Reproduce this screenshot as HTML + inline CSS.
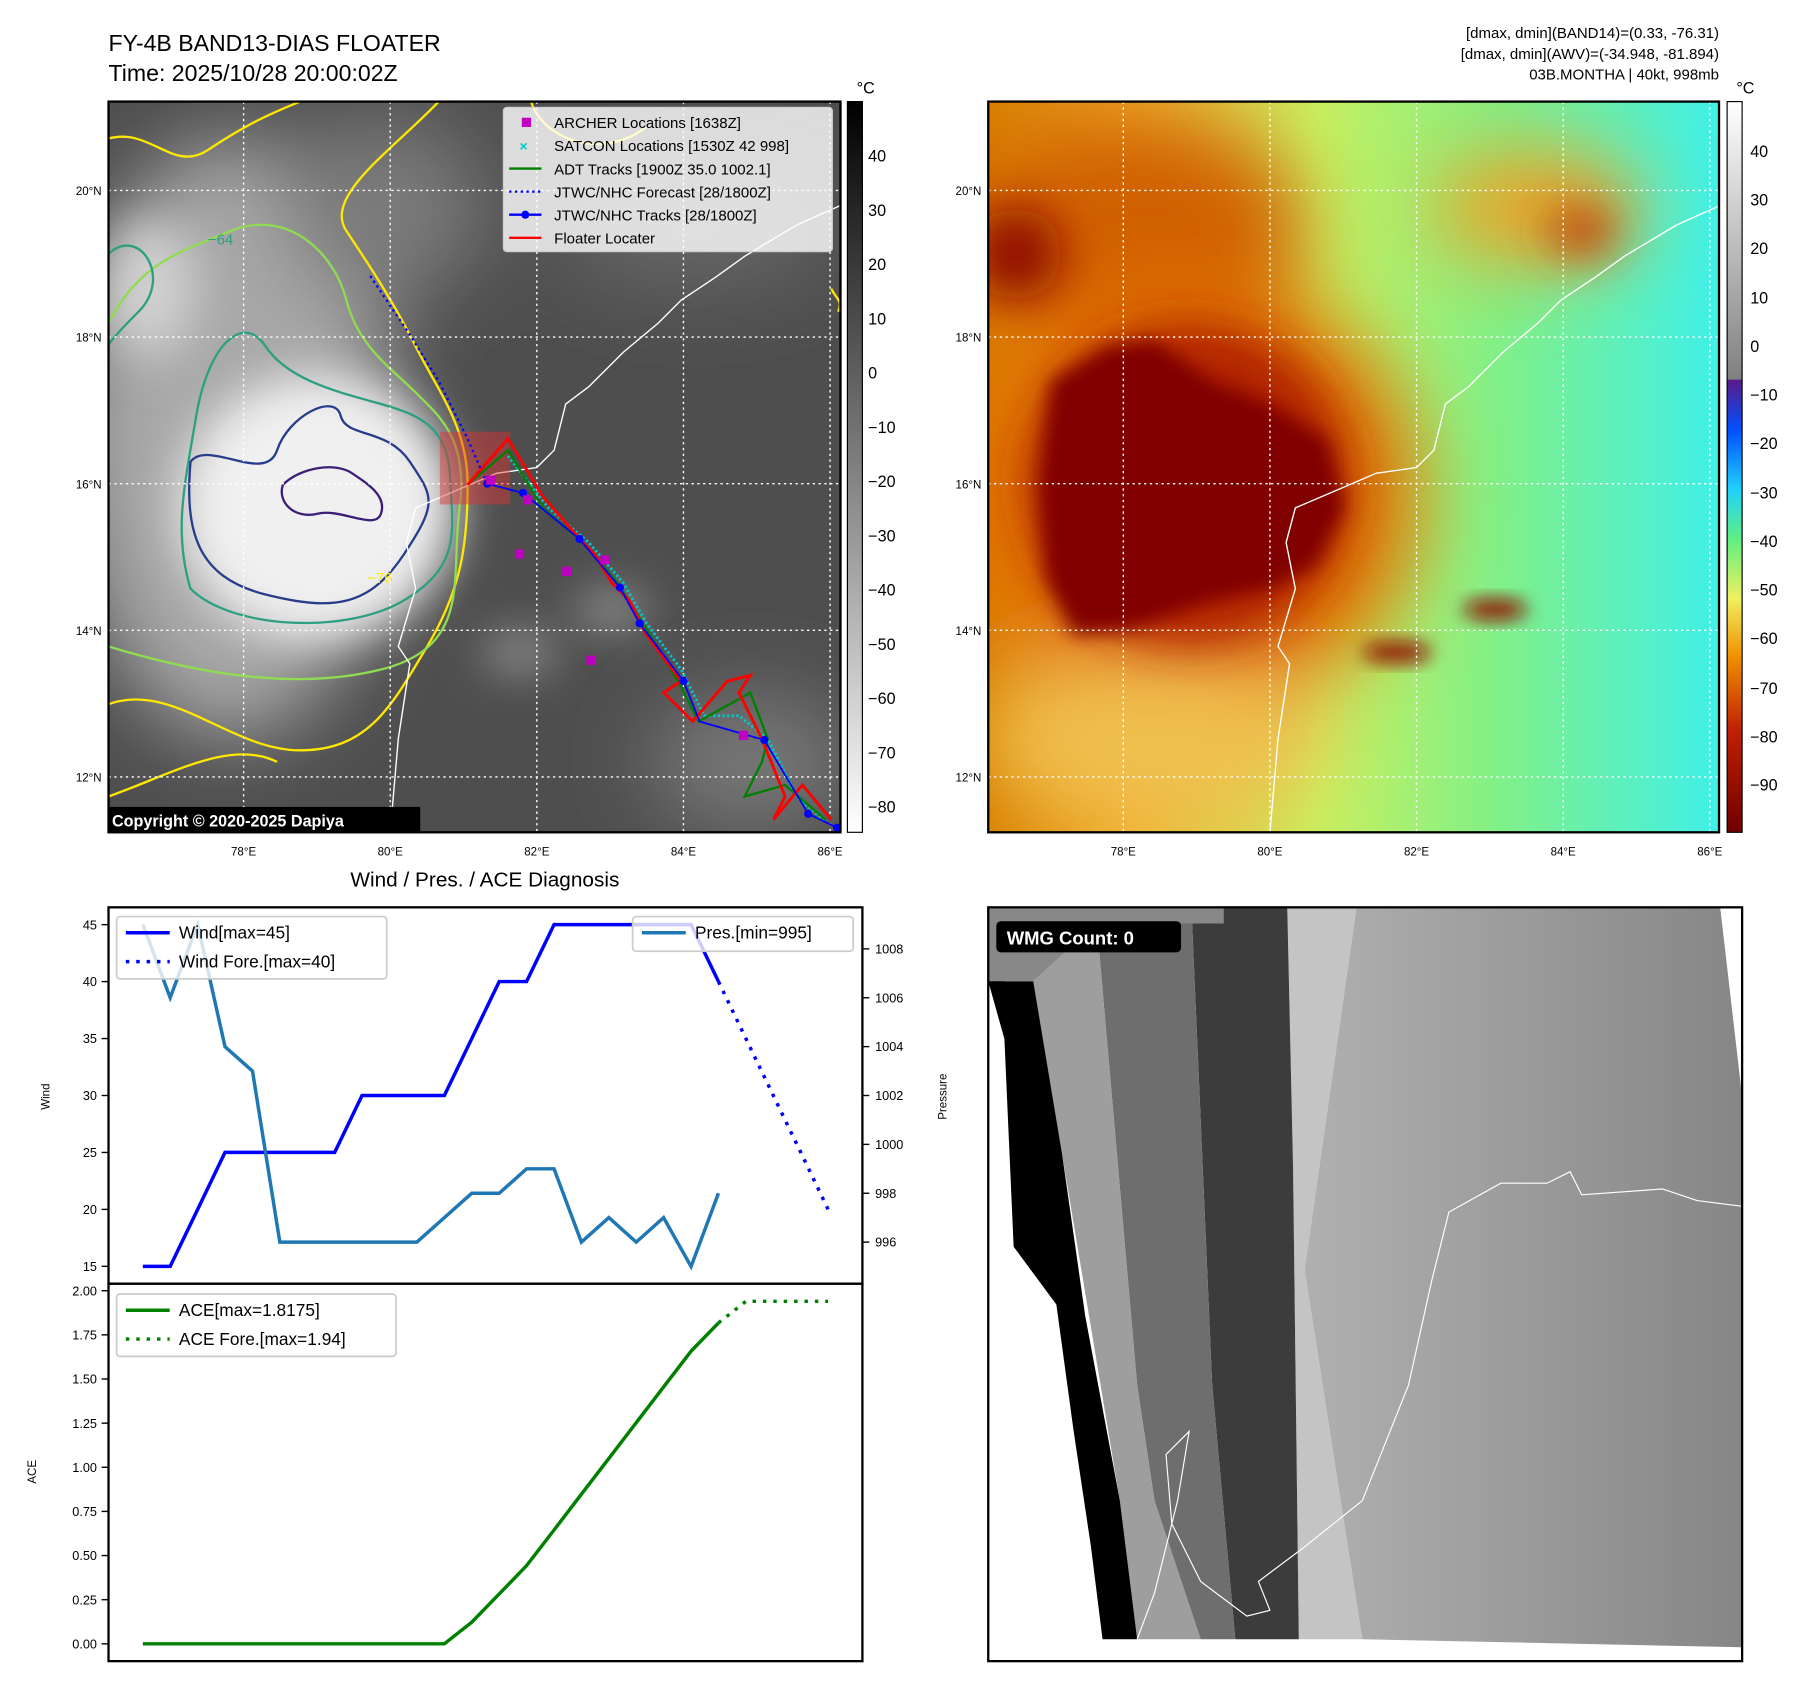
<!DOCTYPE html>
<html><head><meta charset="utf-8"><style>
html,body{margin:0;padding:0;background:#fff;}
svg{display:block;font-family:"Liberation Sans","DejaVu Sans",sans-serif;}
</style></head><body>
<svg id="root" width="1801" height="1690" viewBox="0 0 1560 1464" preserveAspectRatio="none" xmlns="http://www.w3.org/2000/svg">
<defs>
<filter id="b8" x="-50%" y="-50%" width="200%" height="200%"><feGaussianBlur stdDeviation="8"/></filter>
<filter id="b20" x="-50%" y="-50%" width="200%" height="200%"><feGaussianBlur stdDeviation="20"/></filter>
<filter id="b35" x="-50%" y="-50%" width="200%" height="200%"><feGaussianBlur stdDeviation="35"/></filter>
<clipPath id="cl"><rect x="94" y="88" width="634" height="633"/></clipPath>
<clipPath id="cr"><rect x="856" y="88" width="633" height="633"/></clipPath>
<clipPath id="cb"><rect x="856" y="786" width="653" height="653"/></clipPath>
<linearGradient id="gcl" x1="0" y1="0" x2="0" y2="1"><stop offset="0" stop-color="#000"/><stop offset="1" stop-color="#fff"/></linearGradient>
<linearGradient id="gcr" x1="0" y1="0" x2="0" y2="1">
<stop offset="0" stop-color="#fff"/><stop offset="0.38" stop-color="#808080"/><stop offset="0.381" stop-color="#5a1a8a"/>
<stop offset="0.45" stop-color="#0050ff"/><stop offset="0.53" stop-color="#20d0ff"/><stop offset="0.6" stop-color="#60f080"/>
<stop offset="0.68" stop-color="#f0f060"/><stop offset="0.76" stop-color="#f09000"/><stop offset="0.86" stop-color="#c02000"/><stop offset="1" stop-color="#700000"/></linearGradient>
<linearGradient id="grbg" x1="0" y1="0" x2="1" y2="0">
<stop offset="0" stop-color="#d88000"/><stop offset="0.2" stop-color="#f0b030"/><stop offset="0.45" stop-color="#c8f060"/><stop offset="0.7" stop-color="#80f088"/><stop offset="1" stop-color="#40f0e8"/></linearGradient>
<linearGradient id="gbr" x1="0" y1="0" x2="1" y2="0"><stop offset="0" stop-color="#b0b0b0"/><stop offset="1" stop-color="#868686"/></linearGradient>
</defs>

<!-- Titles -->
<text x="94" y="44" font-size="20">FY-4B BAND13-DIAS FLOATER</text>
<text x="94" y="70" font-size="20">Time: 2025/10/28 20:00:02Z</text>
<g font-size="13" text-anchor="end">
<text x="1489" y="33">[dmax, dmin](BAND14)=(0.33, -76.31)</text>
<text x="1489" y="51">[dmax, dmin](AWV)=(-34.948, -81.894)</text>
<text x="1489" y="69">03B.MONTHA | 40kt, 998mb</text>
</g>

<!-- LEFT MAP -->
<g clip-path="url(#cl)">
<rect x="94" y="88" width="634" height="633" fill="#4e4e4e"/>
<g filter="url(#b35)">
<ellipse cx="200" cy="380" rx="140" ry="260" fill="#a8a8a8"/>
<ellipse cx="330" cy="180" rx="90" ry="80" fill="#7a7a7a"/>
<ellipse cx="650" cy="660" rx="90" ry="60" fill="#777"/>
<ellipse cx="600" cy="200" rx="120" ry="50" fill="#666"/>
</g>
<g filter="url(#b20)">
<ellipse cx="275" cy="440" rx="120" ry="115" fill="#f0f0f0"/>
<ellipse cx="130" cy="250" rx="40" ry="60" fill="#d0d0d0"/>
<ellipse cx="530" cy="528" rx="30" ry="10" fill="#ccc"/>
<ellipse cx="450" cy="565" rx="30" ry="10" fill="#ccc"/>
</g>
<g fill="none" stroke-width="2">
<path stroke="#ffe800" d="M94,610 C150,590 200,650 260,650 S340,610 370,560 S405,470 405,420 S380,340 360,300 S320,230 300,200 S340,130 380,88"/>
<path stroke="#ffe800" d="M94,690 C150,670 200,640 240,660 M94,120 C130,110 150,150 180,130 S230,100 260,88 M460,88 C470,120 520,140 560,110 M720,250 c5,10 10,10 6,20"/>
<path stroke="#90dc50" d="M94,560 C160,580 250,600 330,580 S390,500 398,440 S380,360 360,340 S310,300 300,260 S250,180 200,200 S120,230 94,280"/>
<path stroke="#2ca080" d="M165,510 C200,545 300,550 350,520 S392,460 390,415 S365,360 330,350 S250,330 230,300 S180,300 170,360 S150,460 165,510Z"/>
<path stroke="#2ca080" d="M94,220 C120,195 150,240 120,270 S94,300 94,300"/>
<path stroke="#283c8c" d="M165,400 C160,460 170,500 230,515 S320,525 350,480 S375,430 355,400 S300,380 295,360 S250,360 240,390 S180,380 165,400Z"/>
<path stroke="#3c1e78" d="M245,420 C260,405 290,400 305,410 S335,430 330,445 S295,440 275,445 S240,435 245,420Z"/>
</g>
<g fill="#ffe800" font-size="13"><text x="318" y="505">−76</text><text x="180" y="212" fill="#2ca080">−64</text></g>
<g stroke="#fff" stroke-width="1.2" stroke-dasharray="2 3">
<line x1="211" y1="88" x2="211" y2="721"/><line x1="338" y1="88" x2="338" y2="721"/><line x1="465" y1="88" x2="465" y2="721"/><line x1="592" y1="88" x2="592" y2="721"/><line x1="719" y1="88" x2="719" y2="721"/>
<line x1="94" y1="673" x2="728" y2="673"/><line x1="94" y1="546" x2="728" y2="546"/><line x1="94" y1="419" x2="728" y2="419"/><line x1="94" y1="292" x2="728" y2="292"/><line x1="94" y1="165" x2="728" y2="165"/>
</g>
<path fill="none" stroke="#fff" stroke-width="1.2" d="M338,721 L345,640 355,575 345,560 360,510 352,470 360,440 395,425 430,410 465,405 480,390 490,350 510,335 540,305 570,280 590,260 620,240 645,222 690,195 728,178"/>
<rect x="381" y="374" width="61" height="63" fill="#e03030" opacity="0.45"/>
<polyline fill="none" stroke="#0000ff" stroke-width="2" stroke-dasharray="2 3" points="422,419 405,380 380,330 355,290 320,238"/>
<polyline fill="none" stroke="#00c8c8" stroke-width="2.5" stroke-dasharray="2 2" points="440,395 475,440 510,470 540,505 560,540 590,580 610,620 640,620 665,640 690,690 715,712"/>
<polyline fill="none" stroke="#008000" stroke-width="2" points="405,420 440,390 470,440 505,470 535,505 560,545 590,595 605,625 650,600 665,640 660,660 645,690 680,680 715,710"/>
<polyline fill="none" stroke="#ff0000" stroke-width="2.5" points="405,420 440,380 470,430 505,470 515,480 530,505 545,520 560,550 590,590 575,600 600,625 630,590 650,585 640,600 660,640 680,690 670,710 695,680 720,710"/>
<g>
<polyline fill="none" stroke="#0000ff" stroke-width="1.5" points="422,419 453,427 502,467 537,509 554,540 592,590 606,625 662,641 700,705 725,717"/>
<g fill="#0000ff"><circle cx="422" cy="419" r="3.5"/><circle cx="453" cy="427" r="3.5"/><circle cx="502" cy="467" r="3.5"/><circle cx="537" cy="509" r="3.5"/><circle cx="554" cy="540" r="3.5"/><circle cx="592" cy="590" r="3.5"/><circle cx="662" cy="641" r="3.5"/><circle cx="700" cy="705" r="3.5"/><circle cx="725" cy="717" r="3.5"/></g>
</g>
<g fill="#c000c0">
<rect x="421" y="412" width="8" height="8"/><rect x="453" y="429" width="8" height="8"/><rect x="446" y="476" width="8" height="8"/><rect x="487" y="491" width="8" height="8"/><rect x="520" y="481" width="8" height="8"/><rect x="508" y="568" width="8" height="8"/><rect x="640" y="633" width="8" height="8"/>
</g>
<g>
<rect x="436" y="93" width="285" height="125" fill="#fff" fill-opacity="0.8" stroke="#ccc" rx="3"/>
<rect x="452" y="102" width="8" height="8" fill="#c000c0"/>
<text x="450" y="131" fill="#00c8c8" font-size="12" font-weight="bold">×</text>
<line x1="441" y1="146" x2="469" y2="146" stroke="#008000" stroke-width="2"/>
<line x1="441" y1="166" x2="469" y2="166" stroke="#0000ff" stroke-width="2" stroke-dasharray="2 3"/>
<line x1="441" y1="186" x2="469" y2="186" stroke="#0000ff" stroke-width="2"/><circle cx="455" cy="186" r="3.5" fill="#0000ff"/>
<line x1="441" y1="206" x2="469" y2="206" stroke="#ff0000" stroke-width="2"/>
<g font-size="13"><text x="480" y="111">ARCHER Locations [1638Z]</text><text x="480" y="131">SATCON Locations [1530Z 42 998]</text><text x="480" y="151">ADT Tracks [1900Z 35.0 1002.1]</text><text x="480" y="171">JTWC/NHC Forecast [28/1800Z]</text><text x="480" y="191">JTWC/NHC Tracks [28/1800Z]</text><text x="480" y="211">Floater Locater</text></g>
</g>
<rect x="94" y="699" width="270" height="22" fill="#000"/>
<text x="97" y="716" fill="#fff" font-size="14" font-weight="bold">Copyright © 2020-2025 Dapiya</text>
</g>
<rect x="94" y="88" width="634" height="633" fill="none" stroke="#000" stroke-width="2"/>
<g font-size="10" text-anchor="end">
<text x="88" y="677">12°N</text><text x="88" y="550">14°N</text><text x="88" y="423">16°N</text><text x="88" y="296">18°N</text><text x="88" y="169">20°N</text></g>
<g font-size="10" text-anchor="middle">
<text x="211" y="741">78°E</text><text x="338" y="741">80°E</text><text x="465" y="741">82°E</text><text x="592" y="741">84°E</text><text x="719" y="741">86°E</text></g>
<g>
<rect x="734" y="88" width="13" height="633" fill="url(#gcl)" stroke="#000"/>
<text x="742" y="81" font-size="14">°C</text>
<g font-size="14"><text x="752" y="140">40</text><text x="752" y="187">30</text><text x="752" y="234">20</text><text x="752" y="281">10</text><text x="752" y="328">0</text><text x="752" y="375">−10</text><text x="752" y="422">−20</text><text x="752" y="469">−30</text><text x="752" y="516">−40</text><text x="752" y="563">−50</text><text x="752" y="610">−60</text><text x="752" y="657">−70</text><text x="752" y="704">−80</text></g>
</g>

<!-- RIGHT MAP -->
<g clip-path="url(#cr)">
<rect x="856" y="88" width="633" height="633" fill="url(#grbg)"/>
<g filter="url(#b35)">
<ellipse cx="980" cy="200" rx="150" ry="100" fill="#d06000"/>
<ellipse cx="1030" cy="430" rx="200" ry="190" fill="#e07000"/>
<ellipse cx="1330" cy="180" rx="90" ry="50" fill="#f0a020"/>
<ellipse cx="1000" cy="640" rx="150" ry="70" fill="#f0c050"/>
</g>
<g filter="url(#b20)">
<ellipse cx="1030" cy="420" rx="140" ry="140" fill="#b02000"/>
<ellipse cx="880" cy="220" rx="40" ry="40" fill="#901000"/>
<ellipse cx="1370" cy="200" rx="30" ry="20" fill="#c03000"/>
</g>
<path fill="#800000" filter="url(#b8)" d="M910,330 L960,300 1000,295 1050,330 1100,350 1150,380 1165,440 1140,490 1100,510 1050,520 980,545 930,550 905,500 900,420Z"/>
<ellipse cx="1295" cy="528" rx="28" ry="9" fill="#901000" filter="url(#b8)"/>
<ellipse cx="1210" cy="565" rx="30" ry="9" fill="#901000" filter="url(#b8)"/>
<g stroke="#fff" stroke-width="1.2" stroke-dasharray="2 3">
<line x1="973" y1="88" x2="973" y2="721"/><line x1="1100" y1="88" x2="1100" y2="721"/><line x1="1227" y1="88" x2="1227" y2="721"/><line x1="1354" y1="88" x2="1354" y2="721"/><line x1="1481" y1="88" x2="1481" y2="721"/>
<line x1="856" y1="673" x2="1489" y2="673"/><line x1="856" y1="546" x2="1489" y2="546"/><line x1="856" y1="419" x2="1489" y2="419"/><line x1="856" y1="292" x2="1489" y2="292"/><line x1="856" y1="165" x2="1489" y2="165"/>
</g>
<path fill="none" stroke="#fff" stroke-width="1.2" d="M1100,721 L1107,640 1117,575 1107,560 1122,510 1114,470 1122,440 1157,425 1192,410 1227,405 1242,390 1252,350 1272,335 1302,305 1332,280 1352,260 1382,240 1407,222 1452,195 1490,178"/>
</g>
<rect x="856" y="88" width="633" height="633" fill="none" stroke="#000" stroke-width="2"/>
<g font-size="10" text-anchor="end"><text x="850" y="677">12°N</text><text x="850" y="550">14°N</text><text x="850" y="423">16°N</text><text x="850" y="296">18°N</text><text x="850" y="169">20°N</text></g>
<g font-size="10" text-anchor="middle"><text x="973" y="741">78°E</text><text x="1100" y="741">80°E</text><text x="1227" y="741">82°E</text><text x="1354" y="741">84°E</text><text x="1481" y="741">86°E</text></g>
<g>
<rect x="1496" y="88" width="13" height="633" fill="url(#gcr)" stroke="#000"/>
<text x="1504" y="81" font-size="14">°C</text>
<g font-size="14"><text x="1516" y="136">40</text><text x="1516" y="178">30</text><text x="1516" y="220">20</text><text x="1516" y="263">10</text><text x="1516" y="305">0</text><text x="1516" y="347">−10</text><text x="1516" y="389">−20</text><text x="1516" y="432">−30</text><text x="1516" y="474">−40</text><text x="1516" y="516">−50</text><text x="1516" y="558">−60</text><text x="1516" y="601">−70</text><text x="1516" y="643">−80</text><text x="1516" y="685">−90</text></g>
</g>

<!-- BOTTOM RIGHT -->
<g clip-path="url(#cb)">
<rect x="856" y="786" width="653" height="653" fill="#fff"/>
<polygon fill="url(#gbr)" points="1175,786 1490,786 1509,950 1509,1427 1180,1420 1130,1100"/>
<polygon fill="#c4c4c4" points="1115,786 1175,786 1130,1100 1180,1420 1125,1420 1120,1010"/>
<polygon fill="#3c3c3c" points="1032,786 1115,786 1120,1010 1125,1420 1070,1420 1050,1200"/>
<polygon fill="#6e6e6e" points="950,800 1032,786 1050,1200 1070,1420 1040,1420 1000,1300 985,1200"/>
<polygon fill="#9e9e9e" points="895,850 950,800 985,1200 1000,1300 1040,1420 985,1420 970,1300"/>
<polygon fill="#000" points="856,786 870,786 870,850 895,850 920,1000 940,1140 970,1300 985,1420 955,1420 945,1340 930,1240 915,1130 878,1080 870,900 856,850"/>
<polygon fill="#888" points="856,786 1060,786 1060,800 950,800 895,850 856,850"/>
<path fill="none" stroke="#fff" stroke-width="1" d="M985,1420 L1000,1380 1020,1300 1030,1240 1020,1250 1010,1260 1015,1320 1040,1370 1080,1400 1100,1395 1090,1370 1130,1340 1180,1300 1220,1200 1240,1110 1255,1050 1300,1025 1340,1025 1360,1015 1370,1035 1440,1030 1470,1040 1509,1045"/>
</g>
<rect x="856" y="786" width="653" height="653" fill="none" stroke="#000" stroke-width="2"/>
<rect x="863" y="798" width="160" height="27" rx="4" fill="#000"/>
<text x="872" y="818" fill="#fff" font-size="16" font-weight="bold">WMG Count: 0</text>

<!-- BOTTOM LEFT CHARTS -->
<text x="420" y="768" font-size="18" text-anchor="middle">Wind / Pres. / ACE Diagnosis</text>
<g id="chart"></g>
<rect x="94" y="786" width="653" height="326" fill="none" stroke="#000" stroke-width="2"/>
<rect x="94" y="1112" width="653" height="327" fill="none" stroke="#000" stroke-width="2"/>
<text transform="translate(43,950) rotate(-90)" font-size="10" text-anchor="middle">Wind</text>
<text transform="translate(820,950) rotate(-90)" font-size="10" text-anchor="middle">Pressure</text>
<text transform="translate(31,1275) rotate(-90)" font-size="10" text-anchor="middle">ACE</text>
<g>
<rect x="101" y="794" width="234" height="54" fill="#fff" fill-opacity="0.8" stroke="#ccc" stroke-width="1.5" rx="3"/>
<line x1="109" y1="808" x2="147" y2="808" stroke="#0000ff" stroke-width="3"/>
<line x1="109" y1="833" x2="147" y2="833" stroke="#0000ff" stroke-width="3" stroke-dasharray="3 6"/>
<text x="155" y="813" font-size="15">Wind[max=45]</text><text x="155" y="838" font-size="15">Wind Fore.[max=40]</text>
</g>
<g>
<rect x="548" y="794" width="191" height="30" fill="#fff" fill-opacity="0.8" stroke="#ccc" stroke-width="1.5" rx="3"/>
<line x1="556" y1="808" x2="594" y2="808" stroke="#1f77b4" stroke-width="3"/>
<text x="602" y="813" font-size="15">Pres.[min=995]</text>
</g>
<g>
<rect x="101" y="1121" width="242" height="54" fill="#fff" fill-opacity="0.8" stroke="#ccc" stroke-width="1.5" rx="3"/>
<line x1="109" y1="1135" x2="147" y2="1135" stroke="#008000" stroke-width="3"/>
<line x1="109" y1="1160" x2="147" y2="1160" stroke="#008000" stroke-width="3" stroke-dasharray="3 6"/>
<text x="155" y="1140" font-size="15">ACE[max=1.8175]</text><text x="155" y="1165" font-size="15">ACE Fore.[max=1.94]</text>
</g>
</svg>
<script>
const windObs = [15,15,20,25,25,25,25,25,30,30,30,30,35,40,40,45,45,45,45,45,45,40];
const windFore = [40,35,30,25,20];
const presObs = [1009,1006,1009,1004,1003,996,996,996,996,996,996,997,998,998,999,999,996,997,996,997,995,998];
const aceObs = [0,0,0,0,0,0,0,0,0,0,0,0,0.1225,0.2825,0.4425,0.645,0.8475,1.05,1.2525,1.455,1.6575,1.8175];
const aceFore = [1.8175,1.94,1.94,1.94,1.94];
const windTicks = [15,20,25,30,35,40,45];
const presTicks = [996,998,1000,1002,1004,1006,1008];
const aceTicks = [0,0.25,0.5,0.75,1,1.25,1.5,1.75,2];
const foreStart = 21;

const NS = 'http://www.w3.org/2000/svg';
const chart = document.getElementById('chart');
const X0=94, XW=653, XMIN=-1.25, XMAX=26.25;
const x = i => X0 + (i - XMIN) / (XMAX - XMIN) * XW;
const yW = v => 786 + (46.52 - v) / (46.52 - 13.48) * 326;
const yP = v => 786 + (1009.7 - v) / (1009.7 - 994.3) * 326;
const yA = v => 1112 + (2.04 - v) / (2.04 + 0.098) * 327;

function line(vals, start, yf, color, dashed, name) {
  const p = document.createElementNS(NS, 'polyline');
  p.setAttribute('points', vals.map((v, k) => x(start + k).toFixed(1) + ',' + yf(v).toFixed(1)).join(' '));
  p.setAttribute('fill', 'none');
  p.setAttribute('stroke', color);
  p.setAttribute('stroke-width', '3');
  if (dashed) p.setAttribute('stroke-dasharray', '3 6');
  
  
  chart.appendChild(p);
}
function ticks(list, yf, side, fmt, name) {
  const g = document.createElementNS(NS, 'g');
  
  
  list.forEach(v => {
    const y = yf(v);
    const t = document.createElementNS(NS, 'line');
    const xe = side === 'left' ? 94 : 747;
    t.setAttribute('x1', xe); t.setAttribute('x2', side === 'left' ? xe - 6 : xe + 6);
    t.setAttribute('y1', y); t.setAttribute('y2', y);
    t.setAttribute('stroke', '#000'); t.setAttribute('stroke-width', '1.2');
    g.appendChild(t);
    const tx = document.createElementNS(NS, 'text');
    tx.setAttribute('x', side === 'left' ? 84 : 758);
    tx.setAttribute('y', y + 4);
    tx.setAttribute('font-size', '11');
    tx.setAttribute('text-anchor', side === 'left' ? 'end' : 'start');
    tx.textContent = fmt(v);
    g.appendChild(tx);
  });
  chart.appendChild(g);
}
ticks(windTicks, yW, 'left', v => String(v), 'wind-ticks');
ticks(presTicks, yP, 'right', v => String(v), 'pressure-ticks');
ticks(aceTicks, yA, 'left', v => v.toFixed(2), 'ace-ticks');
line(windObs, 0, yW, '#0000ff', false, 'wind-line');
line(windFore, foreStart, yW, '#0000ff', true, 'wind-forecast-line');
line(presObs, 0, yP, '#1f77b4', false, 'pressure-line');
line(aceObs, 0, yA, '#008000', false, 'ace-line');
line(aceFore, foreStart, yA, '#008000', true, 'ace-forecast-line');
</script>
</body></html>
